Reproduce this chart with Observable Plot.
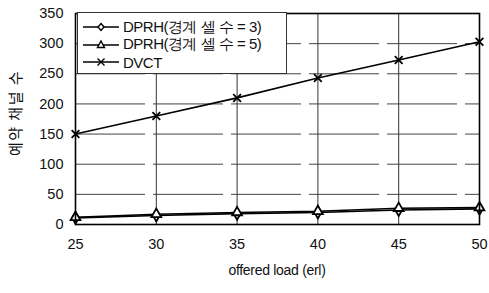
<!DOCTYPE html>
<html><head><meta charset="utf-8">
<script src="https://cdn.jsdelivr.net/npm/d3@7"></script>
<script src="https://cdn.jsdelivr.net/npm/@observablehq/plot@0.6"></script>
<style>
body{margin:0;background:#fff;}
#wrap{position:relative;width:489px;height:293px;font-family:"Liberation Sans",Arial,sans-serif;}
#legend{position:absolute;left:77px;top:12px;width:210px;height:62px;border:1px solid #333;background:#fff;box-sizing:border-box;}
.row{position:absolute;left:4px;height:18px;display:flex;align-items:center;font-size:15px;letter-spacing:-0.5px;color:#111;}
.row svg{margin-right:3px;}
#ylab{position:absolute;left:14px;top:113px;transform:translate(-50%,-50%) rotate(-90deg);font-size:15px;letter-spacing:1.5px;white-space:nowrap;color:#111;font-family:"Noto Sans CJK KR",sans-serif;}
#xlab{position:absolute;left:277px;top:270px;transform:translate(-50%,-50%);font-size:14px;white-space:nowrap;color:#111;letter-spacing:-0.3px;}
</style></head>
<body><div id="wrap"></div>
<script>
const loads = [25, 30, 35, 40, 45, 50];
const dprh3 = [11, 15, 18, 20, 24, 26];
const dprh5 = [12, 17, 20, 22, 27, 28];
const dvct = [150, 180, 210, 243, 273, 303];
const seriesNames = ["DPRH(경계 셀 수 = 3)", "DPRH(경계 셀 수 = 5)", "DVCT"];
const xTicks = [25, 30, 35, 40, 45, 50];
const yTicks = [0, 50, 100, 150, 200, 250, 300, 350];
const gridTicks = [50, 100, 150, 200, 250, 300];
const yLabel = "예약 채널 수";
const xLabel = "offered load (erl)";

const symbols = ["diamond", "triangle", "times"];
const seriesVals = [dprh3, dprh5, dvct];
const data = seriesVals.flatMap((vals, i) => loads.map((x, j) => ({x, y: vals[j], s: seriesNames[i]})));

const plot = Plot.plot({
  width: 489, height: 293,
  marginLeft: 75, marginRight: 10, marginTop: 13, marginBottom: 69,
  style: {fontFamily: "Liberation Sans, Arial, sans-serif", fontSize: "14px", background: "#fff", color: "#111"},
  x: {domain: [25, 50]},
  y: {domain: [0, 350]},
  marks: [
    Plot.ruleY(gridTicks, {stroke: "#444", strokeWidth: 1, strokeDasharray: "70,8"}),
    Plot.axisX({ticks: xTicks, tickSize: 0, tickPadding: 14, label: null, fontSize: 14.5, tickFormat: d => d}),
    Plot.axisY({ticks: yTicks, tickSize: 0, tickPadding: 12, label: null, fontSize: 14.5, tickFormat: d => d}),
    Plot.tickX(xTicks.slice(1, -1), {y1: 0, y2: 4, stroke: "#333"}),
    Plot.line(data, {x: "x", y: "y", z: "s", stroke: "#000", strokeWidth: 1.6}),
    Plot.dot(data, {x: "x", y: "y", symbol: d => symbols[seriesNames.indexOf(d.s)], r: 3.6, stroke: "#000", strokeWidth: 1.8, fill: "#fff"}),
    Plot.frame({stroke: "#000", strokeWidth: 1.6})
  ],
  symbol: {type: "identity"}
});
const wrap = document.getElementById("wrap");
wrap.appendChild(plot);

const legend = document.createElement("div");
legend.id = "legend";
const markerPaths = {
  diamond: '<path d="M19,5.5 L22,9 L19,12.5 L16,9 Z" fill="#fff" stroke="#000" stroke-width="1.4"/>',
  triangle: '<path d="M19,5 L22.5,11.5 L15.5,11.5 Z" fill="#fff" stroke="#000" stroke-width="1.4"/>',
  times: '<path d="M15.5,5.5 L22.5,12.5 M22.5,5.5 L15.5,12.5" stroke="#000" stroke-width="1.4"/>'
};
seriesNames.forEach((name, i) => {
  const row = document.createElement("div");
  row.className = "row";
  row.style.top = (5 + i * 17.5) + "px";
  row.innerHTML = `<svg width="38" height="18"><line x1="1" x2="37" y1="9" y2="9" stroke="#000" stroke-width="1.4"/>${markerPaths[symbols[i]]}</svg><span>${name}</span>`;
  legend.appendChild(row);
});
wrap.appendChild(legend);

const yl = document.createElement("div"); yl.id = "ylab"; yl.textContent = yLabel; wrap.appendChild(yl);
const xl = document.createElement("div"); xl.id = "xlab"; xl.textContent = xLabel; wrap.appendChild(xl);
</script></body></html>
